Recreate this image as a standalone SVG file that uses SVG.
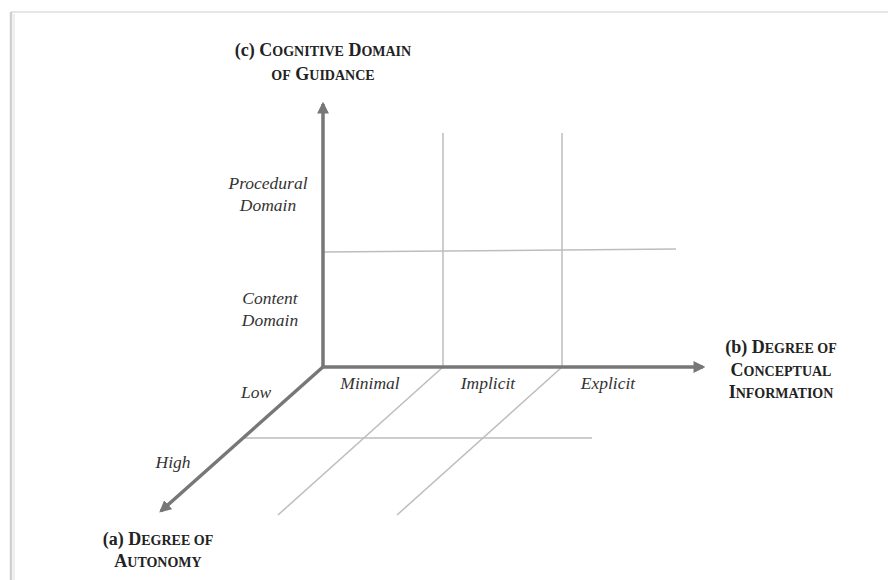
<svg xmlns="http://www.w3.org/2000/svg" width="888" height="580" viewBox="0 0 888 580">
<style>
.ax{stroke:#777;stroke-width:3.5;fill:none}
.gr{stroke:#bdbdbd;stroke-width:1.5;fill:none}
.it{font-family:"Liberation Serif",serif;font-style:italic;font-size:17.5px;fill:#333;text-anchor:middle}
.ttl{font-family:"Liberation Serif",serif;font-weight:bold;font-size:18px;fill:#222;text-anchor:middle}
.sc{font-size:14px}
</style>
<defs>
<marker id="ah" viewBox="0 0 10 10" refX="8" refY="5" markerWidth="3.4" markerHeight="3.4" orient="auto" markerUnits="strokeWidth">
<path d="M0,0 L10,5 L0,10 z" fill="#777"/>
</marker>
</defs>
<rect x="0" y="0" width="888" height="580" fill="#fff"/>
<g id="frame">
<line x1="11" y1="12" x2="888" y2="12" stroke="#e6e6e6" stroke-width="2"/>
<line x1="11" y1="12" x2="11" y2="580" stroke="#cfcfcf" stroke-width="2.5"/>
<line x1="14" y1="14" x2="14" y2="580" stroke="#eee" stroke-width="2"/>
</g>
<g id="grid">
<line class="gr" x1="443" y1="133" x2="443" y2="367"/>
<line class="gr" x1="562" y1="133" x2="562" y2="367"/>
<line class="gr" x1="323" y1="252" x2="676" y2="249"/>
<line class="gr" x1="443" y1="367" x2="278" y2="515"/>
<line class="gr" x1="562" y1="367" x2="397" y2="515"/>
<line class="gr" x1="244" y1="438" x2="592" y2="438"/>
</g>
<g id="connectors">
<line class="ax" x1="323" y1="368" x2="323" y2="104" marker-end="url(#ah)"/>
<line class="ax" x1="321.5" y1="367" x2="703" y2="367" marker-end="url(#ah)"/>
<line class="ax" x1="324" y1="366" x2="161" y2="511" marker-end="url(#ah)"/>
</g>
<g id="axis-c-label">
<text class="ttl" x="323" y="56">(c) C<tspan class="sc">OGNITIVE</tspan> D<tspan class="sc">OMAIN</tspan></text>
<text class="ttl" x="323" y="80"><tspan class="sc">OF</tspan> G<tspan class="sc">UIDANCE</tspan></text>
</g>
<g id="axis-b-label">
<text class="ttl" x="781" y="353">(b) D<tspan class="sc">EGREE OF</tspan></text>
<text class="ttl" x="781" y="376">C<tspan class="sc">ONCEPTUAL</tspan></text>
<text class="ttl" x="781" y="398">I<tspan class="sc">NFORMATION</tspan></text>
</g>
<g id="axis-a-label">
<text class="ttl" x="158" y="545">(a) D<tspan class="sc">EGREE OF</tspan></text>
<text class="ttl" x="158" y="567">A<tspan class="sc">UTONOMY</tspan></text>
</g>
<g id="c-levels">
<text class="it" x="268" y="189">Procedural</text>
<text class="it" x="268" y="211">Domain</text>
<text class="it" x="270" y="304">Content</text>
<text class="it" x="270" y="326">Domain</text>
</g>
<g id="b-levels">
<text class="it" x="370" y="389">Minimal</text>
<text class="it" x="488" y="389">Implicit</text>
<text class="it" x="608" y="389">Explicit</text>
</g>
<g id="a-levels">
<text class="it" x="256" y="398">Low</text>
<text class="it" x="173" y="468">High</text>
</g>
</svg>
